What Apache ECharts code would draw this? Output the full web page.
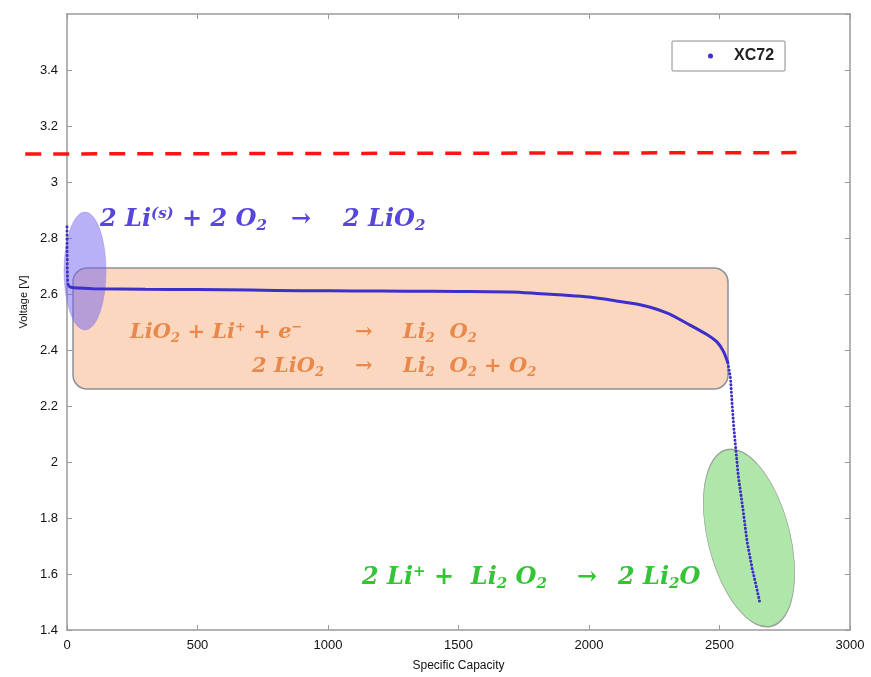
<!DOCTYPE html>
<html><head><meta charset="utf-8">
<script src="https://cdn.jsdelivr.net/npm/echarts@6/dist/echarts.min.js"></script>
<style>html,body{margin:0;padding:0;background:#fff}#c{width:871px;height:677px}</style>
</head><body><div id="c"></div>
<script>
// ---- data ----
const seriesName = 'XC72';
const xAxisName = 'Specific Capacity';
const yAxisName = 'Voltage [V]';

// steep initial drop (dotted)
const capacityInitial = [0, 0, 0, 1, 1, 2, 3, 5];
const voltageInitial  = [2.84, 2.80, 2.76, 2.72, 2.69, 2.66, 2.64, 2.63];
// plateau (dense, solid looking)
const capacityPlateau = [5, 15, 40, 100, 300, 500, 700, 900, 1100, 1300, 1500, 1700, 1800, 1900, 2000, 2100, 2200, 2300, 2387, 2450, 2490, 2515, 2532];
const voltagePlateau  = [2.63, 2.624, 2.621, 2.619, 2.617, 2.616, 2.614, 2.612, 2.611, 2.610, 2.609, 2.607, 2.602, 2.596, 2.589, 2.576, 2.561, 2.532, 2.489, 2.456, 2.429, 2.395, 2.354];
// final steep drop (dotted)
const capacityFinal = [2532, 2542, 2548, 2555, 2562, 2572, 2590, 2605, 2625, 2640, 2655];
const voltageFinal  = [2.354, 2.30, 2.21, 2.12, 2.05, 1.95, 1.83, 1.72, 1.62, 1.56, 1.496];

// red dashed reference line (voltage ~3.1 V)
const refLineCapacity = [-160, 2795];
const refLineVoltage  = [3.10, 3.105];

const xMin = 0, xMax = 3000, xStep = 500;
const yMin = 1.4, yMax = 3.6, yStep = 0.2;

// ---- styles ----
const curveColor = '#3d2fc9';
const axisColor = '#9a9a9a';
const serif = '"DejaVu Serif", "Liberation Serif", serif';
const sans = '"Liberation Sans", Arial, sans-serif';

const pair = (xs, ys) => xs.map((x, i) => [x, ys[i]]);

function richStyles(color, size) {
  const base = {fill: color, fontFamily: serif, fontWeight: 'bold', fontStyle: 'italic'};
  const sm = Math.round(size * 0.62);
  return {
    n:   Object.assign({}, base, {fontSize: size}),
    sub: Object.assign({}, base, {fontSize: sm, padding: [Math.round(size*0.5), 0, 0, 0]}),
    sup: Object.assign({}, base, {fontSize: sm, padding: [0, 0, Math.round(size*0.5), 0]})
  };
}

const chart = echarts.init(document.getElementById('c'), null, {renderer: 'canvas'});

const makeTick = () => ({show: true, inside: true, length: 5, lineStyle: {color: axisColor, width: 1}});
const makeLabel = (extra) => Object.assign({color: '#111', fontSize: 13, fontFamily: sans, margin: 9}, extra || {});
const makeLine = () => ({show: true, onZero: false, lineStyle: {color: axisColor, width: 1.5}});

const option = {
  animation: false,
  backgroundColor: '#fff',
  grid: {left: 67, right: 21, top: 14, bottom: 47, show: false},
  legend: {
    data: [{name: seriesName, icon: 'circle'}],
    left: 672, top: 41,
    itemWidth: 5, itemHeight: 5,
    padding: [7, 11, 7, 36],
    borderColor: '#8c8c8c', borderWidth: 1, borderRadius: 1,
    backgroundColor: '#fff',
    textStyle: {color: '#222', fontSize: 16, fontWeight: 'bold', fontFamily: sans, padding: [0, 0, 0, 16]},
    z: 10
  },
  xAxis: [{
    type: 'value', min: xMin, max: xMax, interval: xStep,
    name: xAxisName, nameLocation: 'middle', nameGap: 30,
    nameTextStyle: {color: '#111', fontSize: 12, fontFamily: sans},
    axisLine: makeLine(), axisTick: makeTick(),
    axisLabel: makeLabel({formatter: v => String(v)}),
    splitLine: {show: false}
  }, {
    type: 'value', position: 'top', min: xMin, max: xMax, interval: xStep,
    axisLine: makeLine(), axisTick: makeTick(), axisLabel: {show: false}, splitLine: {show: false}
  }],
  yAxis: [{
    type: 'value', min: yMin, max: yMax, interval: yStep,
    name: yAxisName, nameLocation: 'middle', nameGap: 38,
    nameTextStyle: {color: '#111', fontSize: 11, fontFamily: sans, padding: [0, 0, 0, 40]},
    axisLine: makeLine(), axisTick: makeTick(),
    axisLabel: makeLabel({showMaxLabel: false, formatter: v => String(Math.round(v * 10) / 10)}),
    splitLine: {show: false}
  }, {
    type: 'value', position: 'right', min: yMin, max: yMax, interval: yStep,
    axisLine: makeLine(), axisTick: makeTick(), axisLabel: {show: false}, splitLine: {show: false}
  }],
  series: [{
    name: seriesName, type: 'line', showSymbol: false, symbol: 'circle',
    itemStyle: {color: curveColor}, z: 5,
    lineStyle: {color: curveColor, width: 3, type: [0.1, 4], cap: 'round'},
    data: pair(capacityInitial, voltageInitial)
  }, {
    name: seriesName, type: 'line', showSymbol: false, smooth: 0.3,
    itemStyle: {color: curveColor}, z: 5,
    lineStyle: {color: curveColor, width: 3},
    data: pair(capacityPlateau, voltagePlateau)
  }, {
    name: seriesName, type: 'line', showSymbol: false,
    itemStyle: {color: curveColor}, z: 5,
    lineStyle: {color: curveColor, width: 3, type: [0.1, 3.6], cap: 'round'},
    data: pair(capacityFinal, voltageFinal)
  }]
};
chart.setOption(option);

// ---- annotations ----
const r0 = chart.convertToPixel({gridIndex: 0}, [refLineCapacity[0], refLineVoltage[0]]);
const r1 = chart.convertToPixel({gridIndex: 0}, [refLineCapacity[1], refLineVoltage[1]]);

const blueRich = richStyles('#5646dc', 24);
const orangeRich = richStyles('#e9884a', 21);
const greenRich = richStyles('#35c435', 24);

function txt(x, y, text, rich) {
  return {type: 'text', z: 4, x: x, y: y,
          style: {text: text, rich: rich, verticalAlign: 'middle', align: 'left'}};
}

chart.setOption({
  graphic: [
    // peach rounded box
    {type: 'rect', z: 1, shape: {x: 73, y: 268, width: 655, height: 121, r: 14},
     style: {fill: 'rgba(247,183,140,0.55)', stroke: '#8a9099', lineWidth: 1.5}},
    // blue ellipse
    {type: 'circle', z: 2, x: 85, y: 271, scaleX: 21/59, scaleY: 1, shape: {cx: 0, cy: 0, r: 59},
     style: {fill: 'rgba(115,100,240,0.5)', stroke: 'rgba(140,130,220,0.6)', lineWidth: 1}},
    // green ellipse
    {type: 'circle', z: 2, x: 749, y: 538, rotation: 0.25, scaleX: 41/91, scaleY: 1, shape: {cx: 0, cy: 0, r: 91},
     style: {fill: 'rgba(110,210,100,0.55)', stroke: '#9aa09a', lineWidth: 1.5}},
    // red dashed line
    {type: 'line', z: 3, shape: {x1: r0[0], y1: r0[1], x2: r1[0], y2: r1[1]},
     style: {stroke: '#ff1414', lineWidth: 3.5, lineDash: [16, 12]}},
    // blue reaction
    txt(100, 220, '{n|2 Li}{sup|(s)}{n| + 2 O}{sub|2}', blueRich),
    txt(291, 220, '{n|→}', blueRich),
    txt(343, 220, '{n|2 LiO}{sub|2}', blueRich),
    // orange reactions
    txt(130, 333, '{n|LiO}{sub|2}{n| + Li}{sup|+}{n| + e}{sup|−}', orangeRich),
    txt(355, 333, '{n|→}', orangeRich),
    txt(403, 333, '{n|Li}{sub|2}{n|  O}{sub|2}', orangeRich),
    txt(252, 367, '{n|2 LiO}{sub|2}', orangeRich),
    txt(355, 367, '{n|→}', orangeRich),
    txt(403, 367, '{n|Li}{sub|2}{n|  O}{sub|2}{n| + O}{sub|2}', orangeRich),
    // green reaction
    txt(362, 578, '{n|2 Li}{sup|+}{n| +  Li}{sub|2}{n| O}{sub|2}', greenRich),
    txt(577, 578, '{n|→}', greenRich),
    txt(618, 578, '{n|2 Li}{sub|2}{n|O}', greenRich)
  ]
});
</script>
</body></html>
